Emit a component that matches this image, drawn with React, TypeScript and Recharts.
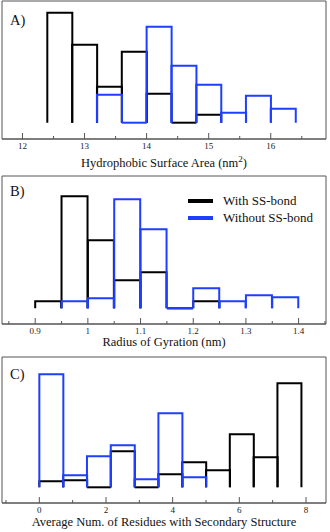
import { ComposedChart, Bar, XAxis, YAxis, ReferenceArea, Legend } from 'recharts'

// panel A: hydrophobic surface area, bins of 0.4 nm^2 (centres)
const binsA = [12.6, 13.0, 13.4, 13.8, 14.2, 14.6, 15.0, 15.4, 15.8, 16.2]
const withA = [110, 78, 36, 71, 29, 0, 8, null, null, null]
const withoutA = [null, null, 28, 0, 96, 57, 38, 10, 27, 14]
const majorA = [12, 13, 14, 15, 16]
const minorA = [12.5, 13.5, 14.5, 15.5, 16.5]

// panel B: radius of gyration, bins of 0.05 nm
const binsB = [0.925, 0.975, 1.025, 1.075, 1.125, 1.175, 1.225, 1.275, 1.325, 1.375]
const withB = [7, 112, 68, 28, 36, 0, 7, null, null, null]
const withoutB = [null, 7, 10, 109, 79, 0, 20, 7, 13, 11]
const majorB = [0.9, 1, 1.1, 1.2, 1.3, 1.4]
const minorB = [0.85, 0.95, 1.05, 1.15, 1.25, 1.35, 1.45]

// panel C: residues with secondary structure, bins of 5/7
const binsC = [0.357, 1.071, 1.786, 2.5, 3.214, 3.929, 4.643, 5.357, 6.071, 6.786, 7.5]
const withC = [6, 7, 0, 36, 0, 13, 25, 17, 53, 30, 104]
const withoutC = [113, 12, 31, 42, 8, 74, 10, null, null, null, null]
const majorC = [0, 2, 4, 6, 8]
const minorC = [-1, 1, 3, 5, 7]

const seriesNames = ['With SS-bond', 'Without SS-bond']
const BLACK = '#000000'
const BLUE = '#1f3fff'
const FRAME = '#555555'
const FONT = '"Liberation Serif", "DejaVu Serif", serif'

const outline = (color: string, key: string) => (props: any) => {
  const { x, y, width, height, payload } = props
  if (payload == null || payload[key] == null) return <g />
  const b = y + height
  return (
    <path
      d={`M${x},${b}L${x},${y}L${x + width},${y}L${x + width},${b}`}
      fill="none"
      stroke={color}
      strokeWidth={2}
    />
  )
}

const makeTick = (major: number[]) => (props: any) => {
  const { x, y, payload } = props
  const isMajor = major.includes(payload.value)
  return (
    <g>
      <line x1={x} x2={x} y1={y} y2={y - (isMajor ? 6 : 3)} stroke={FRAME} strokeWidth={1} />
      {isMajor && (
        <text x={x} y={y + 9.7} textAnchor="middle" fontSize={9} fill="#222" fontFamily={FONT}>
          {payload.value}
        </text>
      )}
    </g>
  )
}

const legendContent = (props: any) => (
  <div style={{ fontFamily: FONT, fontSize: 13, color: '#111' }}>
    {(props.payload || []).map((e: any) => (
      <div key={e.value} style={{ display: 'flex', alignItems: 'center', height: 17 }}>
        <span
          style={{
            display: 'inline-block',
            width: 25,
            height: 4,
            background: e.value === seriesNames[0] ? BLACK : BLUE,
            marginRight: 10,
          }}
        />
        {e.value}
      </div>
    ))}
  </div>
)

interface PanelProps {
  height: number
  top: number
  bottom: number
  bins: number[]
  withSS: (number | null)[]
  withoutSS: (number | null)[]
  major: number[]
  minor: number[]
  xDomain: [number, number]
  yDomain: [number, number]
  letter: string
  letterDy: number
  title: React.ReactNode
  titleDy: number
  legend?: boolean
}

function Panel(p: PanelProps) {
  const data = p.bins.map((x, i) => ({ x, with: p.withSS[i], without: p.withoutSS[i] }))
  const ticks = [...p.major, ...p.minor].sort((a, b) => a - b)
  return (
    <ComposedChart
      width={330}
      height={p.height}
      data={data}
      margin={{ top: p.top, right: 4, left: 2, bottom: 0 }}
      barCategoryGap={0}
      barGap={0}
    >
      <XAxis
        xAxisId="w"
        dataKey="x"
        type="number"
        domain={p.xDomain}
        allowDataOverflow
        ticks={ticks}
        interval={0}
        tickSize={0}
        tickMargin={0}
        tickLine={false}
        tick={makeTick(p.major)}
        stroke={FRAME}
        height={p.bottom}
        label={(lp: any) => {
          const vb = lp.viewBox
          return (
            <text
              x={vb.x + vb.width / 2}
              y={vb.y + p.titleDy}
              textAnchor="middle"
              fontSize={12.5}
              fill="#111"
              fontFamily={FONT}
            >
              {p.title}
            </text>
          )
        }}
      />
      <XAxis xAxisId="wo" dataKey="x" type="number" domain={p.xDomain} allowDataOverflow hide />
      <YAxis type="number" domain={p.yDomain} allowDataOverflow hide />
      <ReferenceArea
        xAxisId="w"
        x1={p.xDomain[0]}
        x2={p.xDomain[1]}
        y1={p.yDomain[0]}
        y2={p.yDomain[1]}
        fill="none"
        stroke={FRAME}
        strokeWidth={1}
        ifOverflow="visible"
        label={(lp: any) => (
          <text
            x={lp.viewBox.x + 8}
            y={lp.viewBox.y + p.letterDy}
            fontSize={14.5}
            fill="#111"
            fontFamily={FONT}
          >
            {p.letter}
          </text>
        )}
      />
      <Bar
        xAxisId="w"
        dataKey="with"
        name={seriesNames[0]}
        fill={BLACK}
        legendType="plainline"
        shape={outline(BLACK, 'with')}
        isAnimationActive={false}
      />
      <Bar
        xAxisId="wo"
        dataKey="without"
        name={seriesNames[1]}
        fill={BLUE}
        legendType="plainline"
        shape={outline(BLUE, 'without')}
        isAnimationActive={false}
      />
      {p.legend && (
        <Legend
          layout="vertical"
          align="center"
          verticalAlign="middle"
          wrapperStyle={{ left: 188, top: 17, width: 140 }}
          content={legendContent}
        />
      )}
    </ComposedChart>
  )
}

export default function App() {
  return (
    <div style={{ position: 'absolute', left: 0, top: 0, width: 330, height: 532, background: '#fff', fontFamily: FONT }}>
      <Panel
        height={175}
        top={1}
        bottom={36}
        bins={binsA}
        withSS={withA}
        withoutSS={withoutA}
        major={majorA}
        minor={minorA}
        xDomain={[11.67, 16.89]}
        yDomain={[-16.3, 121.7]}
        letter="A)"
        letterDy={24}
        titleDy={28}
        title={
          <>
            Hydrophobic Surface Area (nm
            <tspan dy={-5} fontSize={9}>2</tspan>
            <tspan dy={5}>)</tspan>
          </>
        }
      />
      <Panel
        height={175}
        top={1}
        bottom={26}
        bins={binsB}
        withSS={withB}
        withoutSS={withoutB}
        major={majorB}
        minor={minorB}
        xDomain={[0.837, 1.452]}
        yDomain={[-15.7, 132.3]}
        letter="B)"
        letterDy={19.5}
        titleDy={22}
        title="Radius of Gyration (nm)"
        legend
      />
      <Panel
        height={182}
        top={7}
        bottom={29}
        bins={binsC}
        withSS={withC}
        withoutSS={withoutC}
        major={majorC}
        minor={minorC}
        xDomain={[-1.12, 8.6]}
        yDomain={[-15.7, 130.3]}
        letter="C)"
        letterDy={22}
        titleDy={23.4}
        title="Average Num. of Residues with Secondary Structure"
      />
    </div>
  )
}
